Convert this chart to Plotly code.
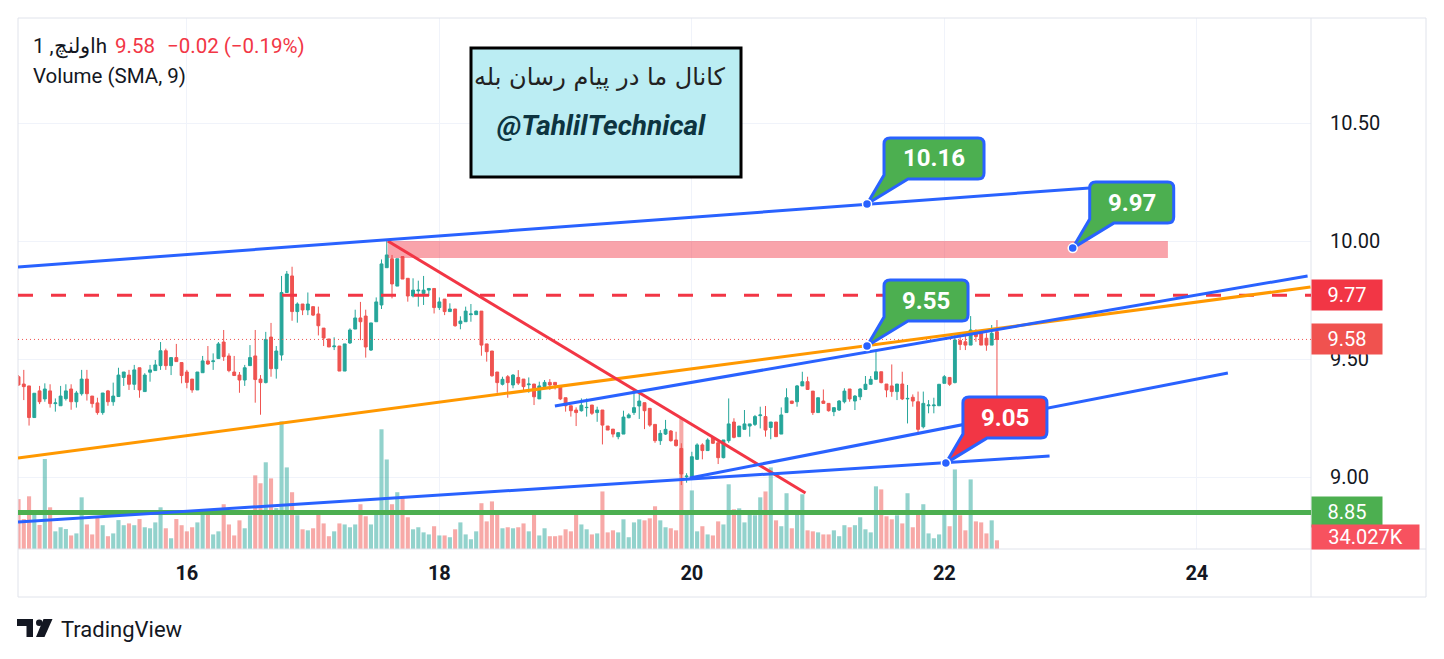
import pandas as pd
import plotly.graph_objects as go

# hourly candles of اولنچ, first one 14 May 16:00
start = "2024-05-14 16:00"

opens = [
    9.425, 9.394, 9.386, 9.252, 9.365, 9.331, 9.365, 9.311, 9.302, 9.332,
    9.373, 9.319, 9.353, 9.415, 9.343, 9.314, 9.273, 9.365, 9.319, 9.341,
    9.422, 9.432, 9.393, 9.463, 9.362, 9.444, 9.451, 9.472, 9.535, 9.472,
    9.506, 9.485, 9.445, 9.415, 9.369, 9.442, 9.492, 9.489, 9.502, 9.572,
    9.513, 9.445, 9.432, 9.411, 9.472, 9.513, 9.415, 9.400, 9.593, 9.459,
    9.517, 9.782, 9.852, 9.701, 9.733, 9.708, 9.722, 9.691, 9.631, 9.585,
    9.552, 9.555, 9.449, 9.568, 9.627, 9.674, 9.682, 9.538, 9.658, 9.729,
    9.887, 9.925, 9.809, 9.934, 9.842, 9.767, 9.789, 9.778, 9.792, 9.799,
    9.718, 9.754, 9.701, 9.712, 9.650, 9.658, 9.688, 9.688, 9.703, 9.564,
    9.534, 9.445, 9.393, 9.425, 9.390, 9.422, 9.415, 9.391, 9.394, 9.331,
    9.383, 9.401, 9.401, 9.387, 9.336, 9.302, 9.284, 9.281, 9.294, 9.305,
    9.273, 9.284, 9.216, 9.203, 9.171, 9.182, 9.251, 9.273, 9.301, 9.315,
    9.291, 9.223, 9.154, 9.182, 9.195, 9.157, 9.121, 9.001, 9.001, 9.075,
    9.136, 9.112, 9.167, 9.145, 9.082, 9.154, 9.233, 9.171, 9.202, 9.216,
    9.223, 9.260, 9.256, 9.210, 9.233, 9.182, 9.273, 9.322, 9.319, 9.386,
    9.404, 9.364, 9.273, 9.322, 9.312, 9.277, 9.284, 9.319, 9.373, 9.322,
    9.340, 9.371, 9.393, 9.414, 9.446, 9.394, 9.386, 9.362, 9.394, 9.331,
    9.338, 9.319, 9.213, 9.302, 9.302, 9.302, 9.397, 9.422, 9.400, 9.578,
    9.573, 9.559, 9.616, 9.616, 9.588, 9.559, 9.616,
]
highs = [
    9.432, 9.454, 9.386, 9.355, 9.386, 9.397, 9.393, 9.333, 9.386, 9.393,
    9.393, 9.365, 9.454, 9.454, 9.343, 9.336, 9.356, 9.369, 9.400, 9.463,
    9.445, 9.454, 9.475, 9.463, 9.440, 9.475, 9.496, 9.572, 9.544, 9.506,
    9.564, 9.485, 9.454, 9.415, 9.445, 9.513, 9.555, 9.524, 9.572, 9.623,
    9.524, 9.513, 9.445, 9.475, 9.559, 9.623, 9.432, 9.615, 9.653, 9.555,
    9.852, 9.873, 9.891, 9.740, 9.733, 9.782, 9.722, 9.722, 9.631, 9.585,
    9.592, 9.555, 9.564, 9.630, 9.709, 9.742, 9.709, 9.653, 9.761, 9.922,
    10.000, 9.941, 9.925, 9.934, 9.842, 9.842, 9.832, 9.852, 9.799, 9.799,
    9.761, 9.754, 9.736, 9.712, 9.681, 9.722, 9.733, 9.705, 9.703, 9.564,
    9.534, 9.445, 9.425, 9.432, 9.436, 9.453, 9.415, 9.422, 9.394, 9.404,
    9.411, 9.415, 9.401, 9.390, 9.336, 9.302, 9.295, 9.333, 9.333, 9.305,
    9.298, 9.284, 9.216, 9.203, 9.188, 9.281, 9.270, 9.362, 9.362, 9.315,
    9.291, 9.223, 9.199, 9.242, 9.199, 9.192, 9.143, 9.016, 9.107, 9.143,
    9.143, 9.164, 9.167, 9.157, 9.157, 9.333, 9.249, 9.216, 9.284, 9.225,
    9.263, 9.298, 9.301, 9.233, 9.233, 9.295, 9.376, 9.322, 9.390, 9.446,
    9.425, 9.364, 9.336, 9.371, 9.312, 9.294, 9.326, 9.376, 9.373, 9.347,
    9.376, 9.428, 9.428, 9.531, 9.446, 9.394, 9.477, 9.394, 9.446, 9.390,
    9.350, 9.362, 9.362, 9.326, 9.336, 9.393, 9.432, 9.422, 9.609, 9.609,
    9.602, 9.682, 9.626, 9.616, 9.609, 9.644, 9.665,
]
lows = [
    9.386, 9.326, 9.218, 9.252, 9.309, 9.319, 9.294, 9.277, 9.302, 9.324,
    9.285, 9.294, 9.345, 9.324, 9.294, 9.264, 9.264, 9.302, 9.302, 9.341,
    9.386, 9.369, 9.369, 9.336, 9.362, 9.404, 9.451, 9.454, 9.454, 9.432,
    9.489, 9.397, 9.376, 9.357, 9.369, 9.442, 9.475, 9.454, 9.502, 9.492,
    9.444, 9.430, 9.357, 9.386, 9.472, 9.315, 9.264, 9.397, 9.425, 9.417,
    9.493, 9.782, 9.662, 9.654, 9.686, 9.686, 9.682, 9.600, 9.555, 9.551,
    9.538, 9.449, 9.449, 9.564, 9.627, 9.580, 9.506, 9.534, 9.658, 9.712,
    9.887, 9.757, 9.809, 9.839, 9.743, 9.761, 9.722, 9.729, 9.767, 9.693,
    9.708, 9.686, 9.701, 9.637, 9.626, 9.658, 9.658, 9.688, 9.514, 9.489,
    9.425, 9.357, 9.388, 9.336, 9.376, 9.390, 9.362, 9.357, 9.305, 9.331,
    9.376, 9.369, 9.371, 9.326, 9.277, 9.256, 9.216, 9.277, 9.256, 9.263,
    9.234, 9.138, 9.199, 9.168, 9.160, 9.182, 9.249, 9.263, 9.246, 9.203,
    9.213, 9.145, 9.136, 9.178, 9.150, 9.129, 8.966, 8.976, 8.987, 9.072,
    9.075, 9.112, 9.140, 9.055, 9.079, 9.145, 9.164, 9.171, 9.202, 9.171,
    9.216, 9.206, 9.171, 9.160, 9.171, 9.182, 9.273, 9.309, 9.298, 9.386,
    9.371, 9.263, 9.273, 9.312, 9.277, 9.258, 9.280, 9.312, 9.319, 9.284,
    9.326, 9.371, 9.393, 9.414, 9.397, 9.338, 9.340, 9.326, 9.326, 9.227,
    9.298, 9.178, 9.206, 9.270, 9.270, 9.302, 9.397, 9.386, 9.397, 9.538,
    9.538, 9.559, 9.573, 9.559, 9.535, 9.559, 9.199,
]
closes = [
    9.390, 9.383, 9.252, 9.355, 9.319, 9.373, 9.311, 9.314, 9.343, 9.365,
    9.319, 9.356, 9.415, 9.353, 9.311, 9.273, 9.356, 9.319, 9.343, 9.432,
    9.445, 9.393, 9.454, 9.369, 9.432, 9.454, 9.475, 9.535, 9.472, 9.506,
    9.489, 9.430, 9.401, 9.369, 9.445, 9.492, 9.479, 9.492, 9.564, 9.510,
    9.451, 9.430, 9.411, 9.463, 9.506, 9.413, 9.400, 9.583, 9.459, 9.534,
    9.782, 9.860, 9.701, 9.733, 9.708, 9.733, 9.686, 9.641, 9.589, 9.551,
    9.555, 9.449, 9.564, 9.623, 9.674, 9.658, 9.551, 9.653, 9.742, 9.903,
    9.941, 9.818, 9.925, 9.839, 9.767, 9.792, 9.792, 9.792, 9.799, 9.718,
    9.742, 9.701, 9.712, 9.641, 9.661, 9.703, 9.691, 9.703, 9.559, 9.531,
    9.429, 9.400, 9.414, 9.400, 9.432, 9.398, 9.383, 9.394, 9.340, 9.386,
    9.401, 9.390, 9.390, 9.331, 9.302, 9.281, 9.273, 9.304, 9.295, 9.270,
    9.284, 9.220, 9.199, 9.182, 9.188, 9.254, 9.263, 9.294, 9.322, 9.281,
    9.220, 9.154, 9.185, 9.202, 9.154, 9.133, 9.013, 9.004, 9.086, 9.136,
    9.112, 9.157, 9.143, 9.082, 9.157, 9.225, 9.168, 9.216, 9.225, 9.225,
    9.256, 9.263, 9.199, 9.233, 9.171, 9.263, 9.336, 9.312, 9.386, 9.404,
    9.371, 9.273, 9.336, 9.312, 9.281, 9.294, 9.322, 9.364, 9.331, 9.343,
    9.373, 9.393, 9.414, 9.446, 9.400, 9.369, 9.362, 9.394, 9.331, 9.333,
    9.322, 9.202, 9.312, 9.305, 9.305, 9.393, 9.425, 9.393, 9.581, 9.562,
    9.559, 9.623, 9.595, 9.559, 9.559, 9.609, 9.583,
]
# volume in thousands
volumes = [
    195, 117, 206, 137, 94, 352, 163, 69, 85, 78,
    53, 61, 202, 96, 57, 124, 93, 50, 61, 113,
    93, 100, 93, 117, 85, 81, 104, 163, 81, 42,
    117, 93, 69, 85, 104, 145, 139, 57, 69, 175,
    96, 53, 112, 81, 132, 288, 257, 339, 276, 160,
    499, 319, 222, 132, 77, 73, 81, 143, 100, 50,
    69, 100, 96, 85, 96, 175, 128, 96, 151, 468,
    350, 175, 222, 202, 124, 77, 85, 65, 57, 89,
    53, 53, 46, 77, 104, 57, 38, 69, 179, 108,
    186, 139, 81, 85, 81, 85, 100, 69, 143, 53,
    81, 50, 50, 53, 77, 69, 136, 96, 77, 57,
    61, 225, 65, 73, 65, 116, 46, 104, 116, 112,
    120, 167, 112, 85, 81, 73, 511, 147, 229, 69,
    89, 57, 53, 108, 96, 253, 155, 159, 104, 139,
    132, 202, 225, 319, 112, 89, 218, 81, 147, 214,
    73, 69, 65, 57, 57, 73, 50, 93, 85, 93,
    124, 77, 65, 245, 233, 128, 116, 132, 100, 218,
    85, 151, 175, 61, 42, 57, 138, 89, 311, 132,
    73, 272, 108, 104, 61, 112, 34.027,
]

# drawings: (t0, p0, t1, p1)
blue_lines = [
    ("2024-05-14 15:54", 9.890, "2024-05-23 03:36", 10.225),
    ("2024-05-18 21:58", 9.301, "2024-05-24 21:03", 9.852),
    ("2024-05-19 23:36", 8.996, "2024-05-24 05:54", 9.441),
    ("2024-05-14 15:54", 8.809, "2024-05-22 20:00", 9.089),
]
orange_line = ("2024-05-14 15:54", 9.081, "2024-05-24 21:36", 9.805)
red_line = ("2024-05-17 14:12", 10.000, "2024-05-20 21:36", 8.932)
zone = ("2024-05-17 14:12", 9.928, "2024-05-23 18:30", 10.000)
resistance = 9.77
support = 8.85

# callouts: anchor time, anchor price, label, fill
callouts = [
    ("2024-05-21 09:18", 10.157, "10.16", "#4caf50"),
    ("2024-05-23 00:24", 9.970, "9.97", "#4caf50"),
    ("2024-05-21 09:18", 9.555, "9.55", "#4caf50"),
    ("2024-05-22 00:18", 9.059, "9.05", "#f23645"),
]

UP = "#26a69a"
DOWN = "#ef5350"
BLUE = "#2962ff"
TEXT = "#131722"
GRID = "#f0f3fa"
FRAME = "#e0e3eb"

times = pd.date_range(start, periods=len(closes), freq="h")
vol_colors = ["rgba(38,166,154,0.5)" if c >= o else "rgba(239,83,80,0.5)"
              for o, c in zip(opens, closes)]


# reference pixel -> paper (plot area is x 18..1311, y 18..549)
def px(x):
    return (x - 18) / 1293


def py(y):
    return (549 - y) / 531


def note(x, y, text, size, color=TEXT, xanchor="left", **font):
    return dict(x=px(x), y=py(y), xref="paper", yref="paper", xanchor=xanchor,
                yanchor="middle", text=text, showarrow=False,
                font=dict(size=size, color=color, **font))


fig = go.Figure()
fig.add_trace(go.Bar(x=times, y=volumes, marker_color=vol_colors,
                     marker_line_width=0, yaxis="y", hoverinfo="skip",
                     showlegend=False))
fig.add_trace(go.Candlestick(
    x=times, open=opens, high=highs, low=lows, close=closes,
    increasing=dict(line=dict(color=UP, width=1), fillcolor=UP),
    decreasing=dict(line=dict(color=DOWN, width=1), fillcolor=DOWN),
    whiskerwidth=0, yaxis="y2", hoverinfo="skip", showlegend=False))

shapes = []
# chart frame
shapes.append(dict(type="rect", xref="paper", yref="paper", x0=px(18), x1=px(1426),
                   y0=py(597), y1=py(18), line=dict(color=FRAME, width=1)))
shapes.append(dict(type="line", xref="paper", yref="paper", x0=px(1311), x1=px(1311),
                   y0=py(597), y1=py(18), line=dict(color=FRAME, width=1)))
shapes.append(dict(type="line", xref="paper", yref="paper", x0=px(18), x1=px(1426),
                   y0=py(549), y1=py(549), line=dict(color=FRAME, width=1)))

# drawings
shapes.append(dict(type="rect", xref="x", yref="y2", x0=zone[0], x1=zone[2],
                   y0=zone[1], y1=zone[3], fillcolor="rgba(242,54,69,0.45)",
                   line=dict(width=0)))
shapes.append(dict(type="line", xref="paper", yref="y2", x0=0, x1=1,
                   y0=closes[-1], y1=closes[-1],
                   line=dict(color=DOWN, width=1, dash="1px,3px")))
shapes.append(dict(type="line", xref="paper", yref="y2", x0=0, x1=1,
                   y0=resistance, y1=resistance,
                   line=dict(color="#f23645", width=3, dash="15px,18px")))
shapes.append(dict(type="line", xref="paper", yref="y2", x0=0, x1=1,
                   y0=support, y1=support, line=dict(color="#4caf50", width=5)))
shapes.append(dict(type="line", xref="x", yref="y2", x0=orange_line[0], y0=orange_line[1],
                   x1=orange_line[2], y1=orange_line[3],
                   line=dict(color="#ff9800", width=3)))
shapes.append(dict(type="line", xref="x", yref="y2", x0=red_line[0], y0=red_line[1],
                   x1=red_line[2], y1=red_line[3],
                   line=dict(color="#f23645", width=3)))
for t0, p0, t1, p1 in blue_lines:
    shapes.append(dict(type="line", xref="x", yref="y2", x0=t0, y0=p0, x1=t1, y1=p1,
                       line=dict(color=BLUE, width=3)))


def callout_path(w, L=17, B=25, T=66, r=6):
    R = L + w
    return (f"M0,0 L{L + 24},{B} L{R - r},{B} Q{R},{B} {R},{B + r} "
            f"L{R},{T - r} Q{R},{T} {R - r},{T} L{L + r},{T} Q{L},{T} {L},{T - r} "
            f"L{L},{B + 4} Z")


annotations = []
for t, p, label, fill in callouts:
    w = 100 if len(label) > 4 else 84
    shapes.append(dict(type="path", xref="x", yref="y2", xsizemode="pixel",
                       ysizemode="pixel", xanchor=t, yanchor=p, path=callout_path(w),
                       fillcolor=fill, line=dict(color=BLUE, width=3)))
    shapes.append(dict(type="circle", xref="x", yref="y2", xsizemode="pixel",
                       ysizemode="pixel", xanchor=t, yanchor=p, x0=-4.5, x1=4.5,
                       y0=-4.5, y1=4.5, fillcolor=BLUE, line=dict(color="white", width=1.5)))
    annotations.append(dict(x=t, y=p, xref="x", yref="y2", text=label, showarrow=False,
                            xanchor="center", yanchor="middle",
                            xshift=17 + w / 2, yshift=45.5,
                            font=dict(size=24, color="white", weight="bold")))

# text box
shapes.append(dict(type="rect", xref="paper", yref="paper", x0=px(471), x1=px(741),
                   y0=py(177), y1=py(48), fillcolor="#bbedf3",
                   line=dict(color="black", width=3)))
annotations.append(note(600, 77, "کانال ما در پیام رسان بله", 24, "#222222",
                        xanchor="center", family="DejaVu Sans"))
annotations.append(note(601, 125, "@TahlilTechnical", 28, "#0d3440",
                        xanchor="center", weight="bold", style="italic"))


# TradingView logo
def logo_path(points):
    return "M" + " L".join(f"{x - 18},{18 - y}" for x, y in points) + " Z"


for pts in ([(17, 619), (33, 619), (33, 637), (26.5, 637), (26.5, 626), (17, 626)],
            [(43.5, 619), (52.5, 619), (44.5, 637), (36, 637)]):
    shapes.append(dict(type="path", xref="paper", yref="paper", xsizemode="pixel",
                       ysizemode="pixel", xanchor=0, yanchor=1, path=logo_path(pts),
                       fillcolor=TEXT, line=dict(width=0)))
shapes.append(dict(type="circle", xref="paper", yref="paper", xsizemode="pixel",
                   ysizemode="pixel", xanchor=0, yanchor=1, x0=36 - 18, x1=42.5 - 18,
                   y0=18 - 619.5, y1=18 - 626, fillcolor=TEXT, line=dict(width=0)))
annotations.append(note(59, 629, "TradingView", 22))

# legend texts
annotations.append(note(31, 46, "اولنچ, 1h", 20.5))
annotations.append(note(113, 46, "9.58", 20.5, "#f23645"))
annotations.append(note(165, 46, "−0.02 (−0.19%)", 20.5, "#f23645"))
annotations.append(note(31, 76, "Volume (SMA, 9)", 20.5))

# price scale labels
for val, col, txt in ((resistance, "#f23645", f"{resistance:.2f}"),
                      (closes[-1], "#f0524f", f"{closes[-1]:.2f}"),
                      (support, "#4caf50", f"{support:.2f}")):
    annotations.append(dict(x=1, y=val, xref="paper", yref="y2", xanchor="left",
                            yanchor="middle", text=txt, showarrow=False, bgcolor=col,
                            width=70, height=30, borderpad=0,
                            font=dict(size=20, color="white")))
annotations.append(dict(x=1, y=volumes[-1], xref="paper", yref="y", xanchor="left",
                        yanchor="middle", text=f"{volumes[-1]:.3f}K", showarrow=False,
                        bgcolor="#f7525f", width=107, height=24, borderpad=0, yshift=3,
                        font=dict(size=20, color="white")))

fig.update_layout(
    width=1428, height=643,
    margin=dict(l=10, r=125, t=10, b=102),
    paper_bgcolor="white", plot_bgcolor="white",
    font=dict(family="Roboto", color=TEXT),
    bargap=0.22, boxgap=0.22,
    showlegend=False,
    xaxis=dict(type="date", range=["2024-05-14 15:54", "2024-05-24 21:42"],
               tick0="2024-05-16", dtick=2 * 86400000, tickformat="%d",
               showgrid=True, gridcolor=GRID, zeroline=False, showline=False,
               ticks="", ticklabelstandoff=10,
               tickfont=dict(size=20, color=TEXT, weight="bold"),
               rangeslider=dict(visible=False)),
    yaxis=dict(range=[0, 2076], visible=False, showgrid=False),
    yaxis2=dict(overlaying="y", side="right", range=[8.695, 10.945],
                tick0=0, dtick=0.5, tickformat=".2f", showgrid=True, gridcolor=GRID,
                zeroline=False, showline=False, ticks="", ticklabelstandoff=18,
                tickfont=dict(size=20, color=TEXT)),
    shapes=shapes,
    annotations=annotations,
)

fig.write_html("out.html")
